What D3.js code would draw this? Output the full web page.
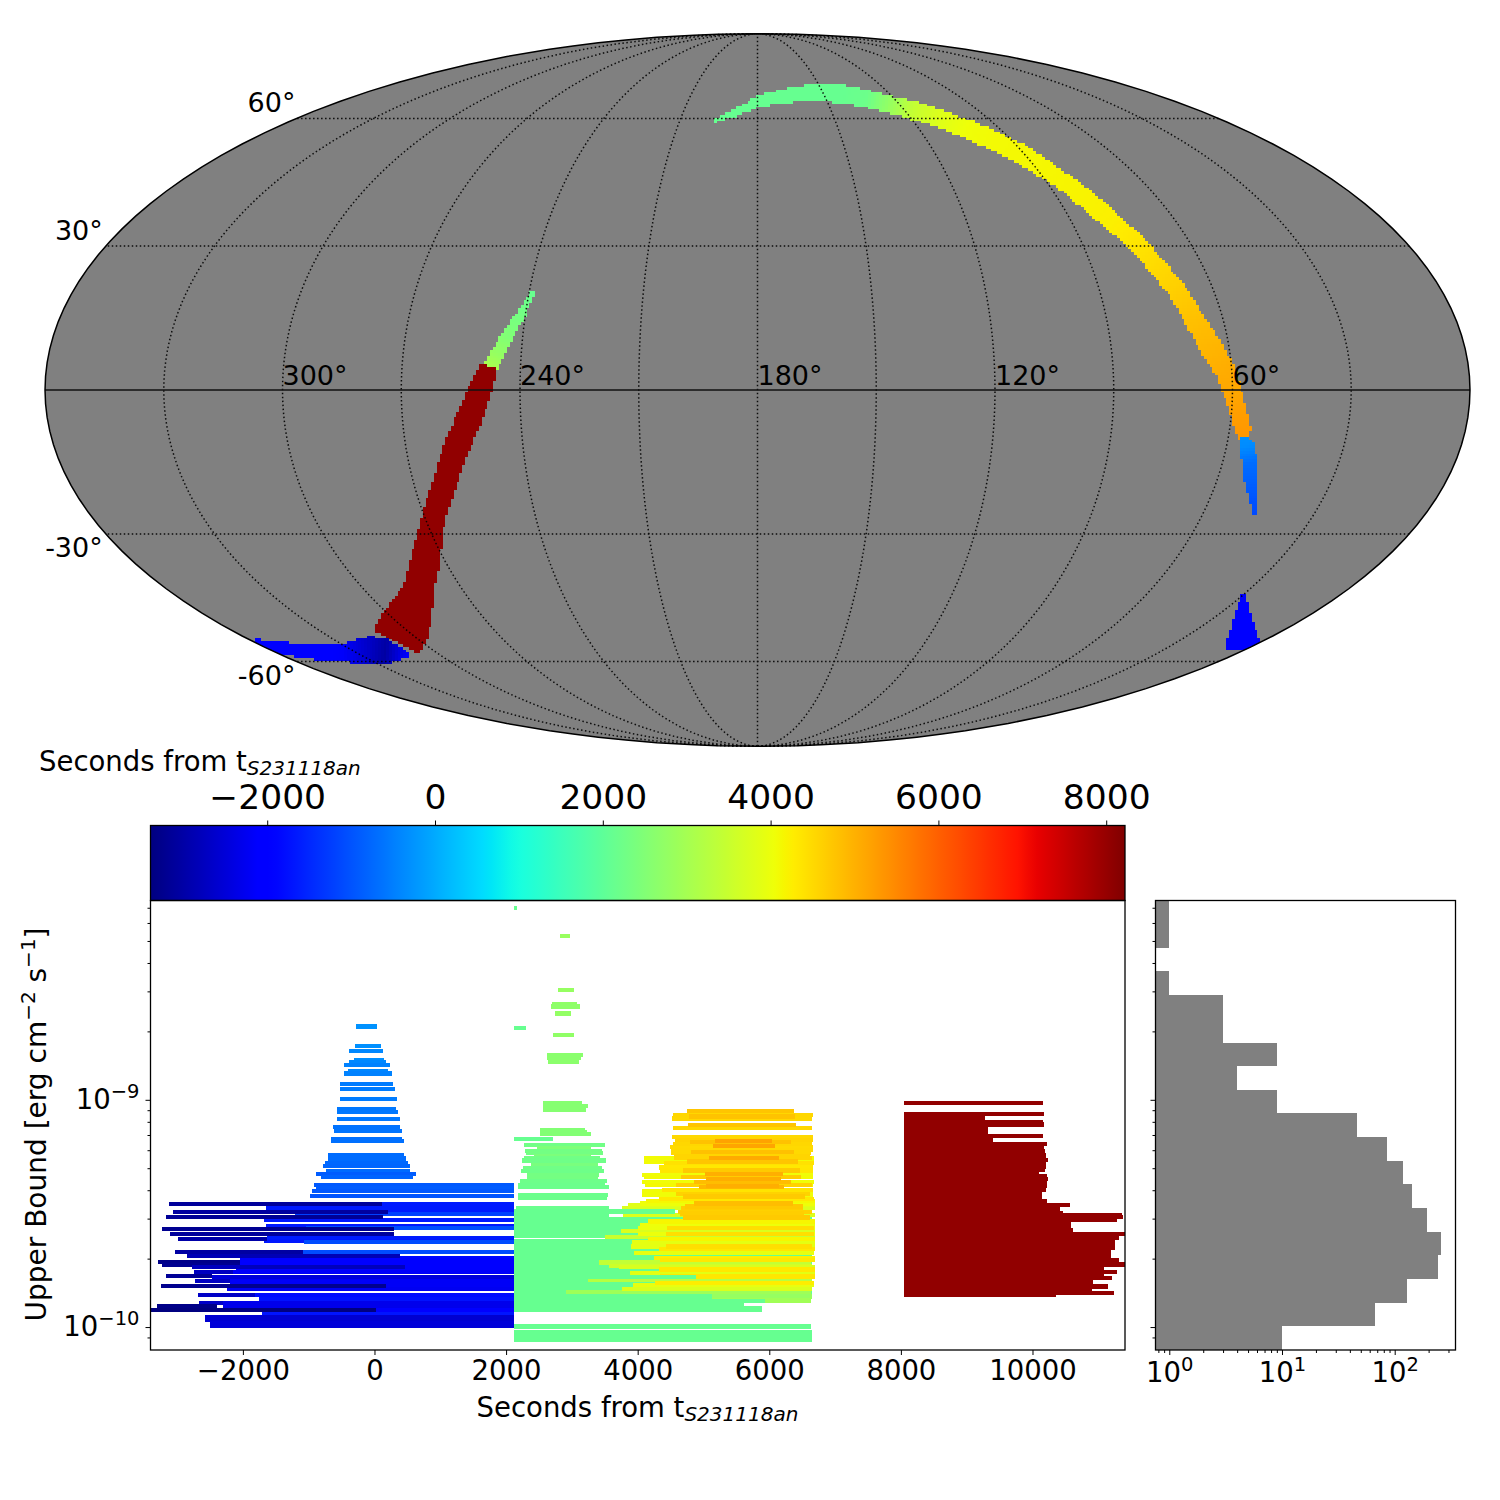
<!DOCTYPE html>
<html><head><meta charset="utf-8">
<script src="https://cdn.jsdelivr.net/npm/d3@7"></script>
<style>
html,body{margin:0;padding:0;background:#fff}
svg{display:block}
text{font-family:"DejaVu Sans",sans-serif;fill:#000}
</style></head><body>
<svg id="fig" width="1500" height="1500" xmlns="http://www.w3.org/2000/svg"></svg>
<script>
// ---------- sky swaths: [longitude deg, latitude deg, swath width deg, seconds]
const skyGreenLeft=[[239.1,20.27,1.0,2120],[241.0,15.83,1.9,2300],[244.1,10.93,2.8,2500],[246.2,7.16,3.1,2800],[247.5,4.7,3.3,3050]];
const skyRedArc=[[248,4.9,4.1,8049],[250.1,0,5.2,8049],[253.3,-6.14,6.0,8049],[257.5,-12.31,5.8,8049],[260.9,-17.85,5.5,8049],[265.8,-24.15,5.5,8049],[270.3,-29.76,5.5,8049],[276.1,-36.34,6.9,8049],[282.6,-41.74,6.7,8049],[289.7,-46.38,9.4,8049],[298.4,-50.66,11.7,8049],[309,-54.87,11.7,8049]];
const skyBlueTail=[[358.7,-54.62,0.7,-2100],[355.9,-56.4,2.6,-2100],[346.4,-57.35,3.5,-2050],[335,-57.69,4.1,-2150],[323,-56.92,6.4,-2700],[318.7,-57.43,5.8,-3050],[314.8,-57.69,3.5,-2500],[311.9,-58.2,1.2,-2100]];
const skyTopArc=[[197.0,59.32,0.6,2120],[189.7,61.3,1.6,2120],[180.3,64.45,2.3,2120],[170.0,66.08,3.1,2120],[157.5,67.02,3.7,2120],[142.45,66.85,4.1,2120],[132.1,65.43,3.9,2200],[125.1,64.0,3.9,2700],[116.5,62.19,4.1,3450],[108.9,59.96,3.9,3800],[102.2,57.35,4.1,4050],[96.5,54.36,4.5,4100],[91.3,51.08,4.5,4120],[87.2,47.09,4.0,4140],[83.2,42.89,4.0,4170],[80.4,38.34,4.4,4200],[78.2,35.2,4.0,4230],[75.4,31.28,4.0,4340],[72.8,26.61,4.0,4470],[69.7,20.63,4.0,4640],[67.3,14.37,4.5,4820],[64.5,8.6,5.0,4950],[61.3,3.48,4.6,5070],[60.2,0,4.3,5120],[58.4,-4.09,3.8,5220],[56.6,-8.19,3.6,5300],[55.9,-10.25,2.5,5320]];
const skyBlueArc=[[55.8,-9.63,1.6,-300],[54.8,-11.63,3.7,-350],[52.9,-15.0,3.1,-700],[50.7,-19.16,3.1,-850],[48.4,-22.73,1.8,-1000],[45.8,-25.9,1.0,-1100]];
const skyBlueWedge=[[30.4,-43.35,0.5,-2000],[24.2,-47.09,3.1,-2000],[15.9,-51.15,5.2,-2000],[8,-54.36,7.2,-2000],[0.5,-56.92,7.6,-2000]];
const meridians=[0,30,60,90,120,150,180,210,240,270,300,330];
const parallels=[-60,-30,30,60];
const lonLabels=[300,240,180,120,60];
const latLabels=[60,30,-30,-60];

// ---------- sweep bars: [log10 upper bound, start s, end s]
const lightBlueBars=[[-8.678,-281,38],[-8.762,-296,99],[-8.784,-388,129],[-8.824,-312,144],[-8.833,-388,175],[-8.846,-464,236],[-8.872,-403,205],[-8.885,-464,266],[-8.930,-524,281],[-8.952,-524,312],[-8.996,-524,342],[-9.040,-570,327],[-9.053,-570,357],[-9.084,-570,388],[-9.119,-631,388],[-9.137,-616,418],[-9.172,-661,418],[-9.181,-661,448],[-9.242,-707,448],[-9.256,-707,479],[-9.264,-707,479],[-9.278,-752,509],[-9.291,-783,540],[-9.313,-737,540],[-9.326,-889,631],[-9.339,-813,585],[-9.374,-920,2120],[-9.388,-889,2120],[-9.401,-950,2120],[-9.423,-980,2120]];
const blueBars=[[-9.458,-1649,2120],[-9.476,-1649,2120],[-9.489,-1649,2120],[-9.502,-1208,2120],[-9.529,-1680,2120],[-9.555,-1649,2120],[-9.564,-1041,2120],[-9.608,-1634,2120],[-9.622,-1680,2120],[-9.626,-1072,2120],[-9.670,-1087,2120],[-9.695,-1900,2120],[-9.705,-2044,2120],[-9.722,-2044,2120],[-9.738,-2100,2120],[-9.758,-2151,2120],[-9.780,-2470,2120],[-9.797,-2196,2120],[-9.815,-2196,2120],[-9.832,-2242,2120],[-9.859,-1816,2120],[-9.877,-1750,2120],[-9.894,-2303,2120],[-9.912,-2300,2120],[-9.925,-2000,2120],[-9.942,-1710,2120],[-9.956,-2576,2120],[-9.969,-2576,2120],[-9.982,-2500,2120],[-9.996,-2500,2120]];
const navyBars=[[-9.458,-3124,114],[-9.493,-3063,205],[-9.515,-3169,129],[-9.568,-3230,296],[-9.590,-3108,296],[-9.612,-2987,-1634],[-9.670,-3032,-1087],[-9.687,-2850,388],[-9.714,-3291,-2044],[-9.726,-3230,-2044],[-9.736,-2774,464],[-9.758,-2744,-2151],[-9.775,-3169,-2470],[-9.797,-2728,-2196],[-9.819,-3245,175],[-9.859,-2683,-1816],[-9.894,-2668,-2303],[-9.907,-3306,-2400],[-9.925,-3397,23]];
const greenBars=[[-8.157,2121,2166],[-8.280,2820,2972],[-8.518,2790,3033],[-8.581,2698,3078],[-8.590,2683,3124],[-8.621,2744,2987],[-8.683,2121,2303],[-8.714,2714,3033],[-8.802,2622,3170],[-8.815,2622,3139],[-8.832,2638,3109],[-9.014,2562,3154],[-9.026,2562,3246],[-9.044,2562,3215],[-9.132,2516,3200],[-9.141,2516,3230],[-9.150,2516,3291],[-9.172,2121,2714],[-9.198,2273,3504],[-9.213,2470,3291],[-9.226,2288,3459],[-9.235,2303,3474],[-9.246,2425,3291],[-9.257,2273,3428],[-9.267,2242,3519],[-9.286,2379,3398],[-9.299,2258,3459],[-9.313,2227,3489],[-9.330,2318,3413],[-9.343,2318,3398],[-9.357,2212,3534],[-9.374,2182,3504],[-9.385,2182,3565],[-9.418,2182,3550],[-9.431,2182,3534]];
const greenBlockBars=[[-9.477,2151,3565],[-9.492,2121,4568],[-9.509,2121,3565],[-9.524,2121,6650],[-9.541,2121,6650],[-9.559,2121,6650],[-9.577,2121,6650],[-9.594,2121,6650],[-9.600,2121,6650],[-9.622,2121,6650],[-9.640,2121,6650],[-9.657,2121,6650],[-9.675,2121,6650],[-9.693,2121,6650],[-9.710,2121,6650],[-9.728,2121,6650],[-9.746,2121,6650],[-9.763,2121,6650],[-9.781,2121,4887],[-9.798,2121,6650],[-9.816,2121,6650],[-9.826,2121,6650],[-9.848,2121,6650],[-9.866,2121,6650],[-9.884,2121,5936],[-9.901,2121,5617],[-9.919,2121,5891],[-9.925,2121,5891],[-9.995,2121,6636],[-10.001,2121,6636],[-10.021,2121,6651],[-10.039,2121,6651],[-10.057,2121,6651]];
const greenOverlayBars=[[-9.492,2121,4568],[-9.781,2121,4887],[-9.866,2121,5126],[-9.886,2121,5936]];
const yellowBars=[[-9.848,2911,6636],[-9.866,2790,6651],[-9.884,2942,6636],[-9.793,3246,6651],[-9.716,3413,6636],[-9.603,3504,6696],[-9.731,3565,6650],[-9.737,3717,6696],[-9.577,3747,6696],[-9.475,3762,6696],[-9.832,3762,6651],[-9.506,3778,6696],[-9.462,3854,6696],[-9.763,3884,6696],[-9.646,3899,6696],[-9.627,3914,6696],[-9.815,3935,6681],[-9.675,3945,6681],[-9.591,4006,6696],[-9.456,4036,6696],[-9.550,4036,6696],[-9.565,4006,6696],[-9.330,4066,6671],[-9.361,4066,6681],[-9.401,4066,6671],[-9.420,4066,6671],[-9.258,4097,6681],[-9.271,4097,6681],[-9.340,4097,6671],[-9.374,4113,6671],[-9.446,4130,6696],[-9.536,4158,6696],[-9.613,4158,6696],[-9.697,4249,6696],[-9.807,4264,6681],[-9.298,4325,6661],[-9.436,4325,6681],[-9.657,4325,6696],[-9.746,4325,6696],[-9.311,4340,6661],[-9.705,4340,6696],[-9.778,4340,6696],[-9.396,4370,6671],[-9.279,4401,6681],[-9.591,4431,6681],[-9.646,4431,6646],[-9.565,4446,6681]];
const amberBars=[[-9.208,4492,6661],[-9.220,4507,6666],[-9.235,4507,6636],[-9.083,4523,6651],[-9.163,4523,6666],[-9.066,4538,6666],[-9.125,4538,6651],[-9.194,4538,6651],[-9.246,4553,6620],[-9.255,4553,6646],[-9.177,4568,6666],[-9.374,4583,6651],[-9.414,4583,6620],[-9.493,4614,6651],[-9.500,4644,6529],[-9.340,4659,6484],[-9.475,4659,6514],[-9.311,4690,6468],[-9.426,4690,6544],[-9.518,4690,6620],[-9.470,4720,6514],[-9.048,4750,6377],[-9.271,4750,6438],[-9.111,4766,6407],[-9.073,4781,6392],[-9.186,4796,6331],[-9.230,4811,6377],[-9.361,4857,6331],[-9.456,4857,6362],[-9.383,4933,6225],[-9.326,5024,6210],[-9.349,5039,6179],[-9.380,5039,6149],[-9.255,5085,6149],[-9.202,5146,6088],[-9.180,5176,6043]];
const redBars=[[-9.013,8049,10162],[-9.063,8049,10177],[-9.082,8049,9280],[-9.097,8049,10167],[-9.109,8049,10177],[-9.126,8049,9326],[-9.141,8049,9326],[-9.159,8049,10162],[-9.178,8049,9397],[-9.195,8049,10218],[-9.213,8049,10182],[-9.228,8049,10197],[-9.242,8049,10207],[-9.253,8049,10207],[-9.264,8049,10233],[-9.279,8049,10212],[-9.297,8049,10202],[-9.308,8049,10192],[-9.320,8049,10106],[-9.338,8049,10218],[-9.348,8049,10238],[-9.367,8049,10218],[-9.379,8049,10218],[-9.396,8049,10207],[-9.407,8049,10141],[-9.418,8049,10141],[-9.433,8049,10141],[-9.448,8049,10218],[-9.462,8049,10572],[-9.473,8049,10420],[-9.485,8049,10420],[-9.499,8049,10471],[-9.507,8049,11358],[-9.517,8049,11378],[-9.526,8049,11282],[-9.540,8049,10587],[-9.558,8049,10587],[-9.567,8049,10587],[-9.576,8049,10613],[-9.590,8049,11413],[-9.609,8049,11317],[-9.620,8049,11256],[-9.631,8049,11256],[-9.642,8049,11256],[-9.653,8049,11256],[-9.664,8049,11196],[-9.675,8049,11196],[-9.690,8049,11196],[-9.705,8049,11317],[-9.714,8049,11317],[-9.724,8049,11413],[-9.738,8049,11089],[-9.748,8049,11089],[-9.758,8049,11287],[-9.771,8049,11089],[-9.784,8049,11210],[-9.800,8049,10927],[-9.811,8049,10927],[-9.822,8049,11150],[-9.834,8049,10907],[-9.849,8049,11241],[-9.856,8049,10359]];

// ---------- histogram
const histEdges=[-10.101,-9.997,-9.893,-9.789,-9.685,-9.580,-9.476,-9.372,-9.268,-9.164,-9.060,-8.956,-8.852,-8.748,-8.644,-8.540,-8.435,-8.331,-8.227,-8.123];
const histCounts=[10,67,129,242,258,194,142,119,85,46,9,4,9,3,3,1,0,1,1];

// ---------- ticks
const mainTicks=[-2000,0,2000,4000,6000,8000,10000];
const colorTicks=[-2000,0,2000,4000,6000,8000];
const upperBoundTicks=[1e-9,1e-10];
const upperBoundMinor=[2e-10,3e-10,4e-10,5e-10,6e-10,7e-10,8e-10,9e-10,2e-9,3e-9,4e-9,5e-9,6e-9,7e-9,9e-11];
const histTicks=[1,10,100];
const histMinor=[0.8,0.9,2,3,4,5,6,7,8,9,20,30,40,50,60,70,80,90,200,300];

const svg=d3.select("#fig");
const FS=27.5;
const colorDomain=[-3391,8224];
const norm=d3.scaleLinear().domain(colorDomain).range([0,1]).clamp(true);
const jetR=d3.scaleLinear().domain([0,.35,.66,.89,1]).range([0,0,1,1,.5]);
const jetG=d3.scaleLinear().domain([0,.125,.375,.64,.91,1]).range([0,0,1,1,0,0]);
const jetB=d3.scaleLinear().domain([0,.11,.34,.65,1]).range([.5,1,1,0,0]);
function jetF(f){return d3.rgb(jetR(f)*255,jetG(f)*255,jetB(f)*255).formatHex();}
const jet=t=>jetF(norm(t));

// ---------- Mollweide
function mollweideRaw(l,p){
  let th=p;
  if(Math.abs(Math.abs(p)-Math.PI/2)>1e-9){
    for(let i=0;i<40;i++){
      const d=(2*th+Math.sin(2*th)-Math.PI*Math.sin(p))/(2+2*Math.cos(2*th));
      th-=d; if(Math.abs(d)<1e-10)break;
    }
  }
  return [2*Math.SQRT2/Math.PI*l*Math.cos(th),Math.SQRT2*Math.sin(th)];
}
const SK=251.9;
const projection=d3.geoProjection(mollweideRaw).scale(SK).translate([757.5,390]).rotate([-180,0]).reflectX(true).precision(.2);
const geoPath=d3.geoPath(projection);
const defs=svg.append("defs");
defs.append("clipPath").attr("id","skyClip").append("path").attr("d",geoPath({type:"Sphere"}));
const map=svg.append("g");
map.append("path").attr("d",geoPath({type:"Sphere"})).attr("fill","#808080");

const CELL=2.8, deg2px=SK*Math.PI/180;
function swathCells(anchors){
  const P=anchors.map(a=>projection([a[0],a[1]]));
  const n=P.length, L=[], R=[];
  P.forEach((p,i)=>{
    const a=P[Math.max(i-1,0)], b=P[Math.min(i+1,n-1)];
    let dx=b[0]-a[0], dy=b[1]-a[1]; const m=Math.hypot(dx,dy)||1; dx/=m; dy/=m;
    const h=anchors[i][2]*deg2px/2;
    L.push([p[0]-dy*h,p[1]+dx*h]); R.push([p[0]+dy*h,p[1]-dx*h]);
  });
  const seen=new Set(), cells=[];
  for(let i=0;i<n-1;i++){
    const poly=[L[i],L[i+1],R[i+1],R[i]];
    const ix=d3.extent(poly,d=>d[0]), iy=d3.extent(poly,d=>d[1]);
    const sx=P[i+1][0]-P[i][0], sy=P[i+1][1]-P[i][1], s2=sx*sx+sy*sy||1;
    for(let gx=Math.floor(ix[0]/CELL);gx*CELL<=ix[1];gx++){
      for(let gy=Math.floor(iy[0]/CELL);gy*CELL<=iy[1];gy++){
        const cx=(gx+.5)*CELL, cy=(gy+.5)*CELL, key=gx+"_"+gy;
        if(seen.has(key)||!d3.polygonContains(poly,[cx,cy]))continue;
        seen.add(key);
        const s=Math.max(0,Math.min(1,((cx-P[i][0])*sx+(cy-P[i][1])*sy)/s2));
        cells.push({x:gx*CELL,y:gy*CELL,t:anchors[i][3]+s*(anchors[i+1][3]-anchors[i][3])});
      }
    }
  }
  return cells;
}
const skyG=map.append("g").attr("clip-path","url(#skyClip)");
[skyGreenLeft,skyRedArc,skyBlueTail,skyTopArc,skyBlueArc,skyBlueWedge].forEach(sw=>{
  skyG.append("g").attr("shape-rendering","crispEdges").selectAll("rect").data(swathCells(sw)).join("rect")
    .attr("x",d=>d.x).attr("y",d=>d.y).attr("width",CELL+.2).attr("height",CELL+.2).attr("fill",d=>jet(d.t));
});
const lats=d3.range(-90,90.01,2);
const grat=map.append("g").attr("fill","none").attr("stroke","#000").attr("stroke-width",1.5).attr("stroke-dasharray","1.5 2.5").attr("opacity",.9);
meridians.filter(m=>m!==0).forEach(m=>{
  grat.append("path").attr("d",geoPath({type:"LineString",coordinates:lats.map(p=>[m,p])}));
});
parallels.forEach(p=>{
  grat.append("path").attr("d",d3.line()([projection([0.001,p]),projection([359.999,p])]));
});
map.append("path").attr("d",d3.line()([projection([0.001,0]),projection([359.999,0])])).attr("stroke","#111").attr("stroke-width",1.7).attr("fill","none");
map.append("path").attr("d",geoPath({type:"Sphere"})).attr("fill","none").attr("stroke","#000").attr("stroke-width",1.5);
lonLabels.forEach(l=>{
  const p=projection([l,0]);
  map.append("text").attr("x",p[0]).attr("y",p[1]-5).attr("font-size",27).text(l+"°");
});
latLabels.forEach(l=>{
  const p=projection([359.999,l]);
  map.append("text").attr("x",p[0]-(Math.abs(l)===60?1:3)).attr("y",p[1]+(l>0?-6:23)).attr("text-anchor","end").attr("font-size",27).text(l+"°");
});

// ---------- scales
const PL=150.5,PR=1125,PT=900.5,PB=1350;
const x=d3.scaleLinear().domain([-3404,11406]).range([PL,PR]);
const y=d3.scaleLog().domain([Math.pow(10,-10.101),Math.pow(10,-8.123)]).range([PB,PT]);
const yL=v=>y(Math.pow(10,v));

// ---------- colour bar
const CT=825.5;
const grad=defs.append("linearGradient").attr("id","jetGrad");
grad.selectAll("stop").data(d3.range(0,1.0001,.01)).join("stop").attr("offset",d=>d).attr("stop-color",d=>jetF(d));
svg.append("rect").attr("x",PL).attr("y",CT).attr("width",PR-PL).attr("height",PT-CT).attr("fill","url(#jetGrad)").attr("stroke","#000").attr("stroke-width",1.3);
const cx=d3.scaleLinear().domain(colorDomain).range([PL,PR]);
const cAxis=svg.append("g").attr("transform",`translate(0,${CT})`).call(d3.axisTop(cx).tickValues(colorTicks).tickSize(5).tickSizeOuter(0).tickPadding(12).tickFormat(d=>d3.format("d")(d).replace("-","−")));
cAxis.select(".domain").remove();
cAxis.selectAll("text").attr("font-size",34.5).style("font-family",'"DejaVu Sans"');
function secondsLabel(g,xp,yp,anchor){
  const t=g.append("text").attr("x",xp).attr("y",yp).attr("font-size",FS).attr("text-anchor",anchor);
  t.append("tspan").text("Seconds from t");
  t.append("tspan").attr("dy",4).attr("font-size",20).attr("font-style","italic").text("S231118an");
}
secondsLabel(svg,39,771,"start");

// ---------- main panel
defs.append("clipPath").attr("id","mainClip").append("rect").attr("x",PL).attr("y",PT).attr("width",PR-PL).attr("height",PB-PT);
const mainG=svg.append("g").attr("clip-path","url(#mainClip)").attr("shape-rendering","crispEdges");
const BAR_H=4.4;
[greenBlockBars,greenBars,yellowBars,amberBars,greenOverlayBars,redBars,blueBars,navyBars,lightBlueBars].forEach(group=>{
  mainG.append("g").selectAll("rect").data(group).join("rect")
    .attr("x",d=>x(d[1])).attr("width",d=>x(d[2])-x(d[1]))
    .attr("y",d=>yL(d[0])-BAR_H/2).attr("height",BAR_H).attr("fill",d=>jet(d[1]));
});
svg.append("rect").attr("x",PL).attr("y",PT).attr("width",PR-PL).attr("height",PB-PT).attr("fill","none").attr("stroke","#000").attr("stroke-width",1.3);
const xAxis=svg.append("g").attr("transform",`translate(0,${PB})`).call(d3.axisBottom(x).tickValues(mainTicks).tickSize(5).tickSizeOuter(0).tickPadding(5).tickFormat(d=>d3.format("d")(d).replace("-","−")));
xAxis.select(".domain").remove();
xAxis.selectAll("text").attr("font-size",FS).style("font-family",'"DejaVu Sans"');
function powerText(sel,expFn){
  sel.each(function(d){
    const t=d3.select(this).text(null).attr("font-size",FS).style("font-family",'"DejaVu Sans"');
    t.append("tspan").text("10");
    t.append("tspan").attr("dy",-11).attr("font-size",19.5).text(expFn(d));
  });
}
const expOf=d=>String(Math.round(Math.log10(d))).replace("-","−");
const yAxis=svg.append("g").attr("transform",`translate(${PL},0)`).call(d3.axisLeft(y).tickValues(upperBoundTicks).tickSize(5).tickSizeOuter(0).tickPadding(6));
yAxis.select(".domain").remove();
powerText(yAxis.selectAll("text"),expOf);
const yMinor=svg.append("g").attr("transform",`translate(${PL},0)`).call(d3.axisLeft(y).tickValues(upperBoundMinor).tickSize(3).tickSizeOuter(0).tickFormat(""));
yMinor.select(".domain").remove();
const xl=svg.append("g");
secondsLabel(xl,637.5,1417,"middle");
const yLab=svg.append("text").attr("transform","translate(46,1124.5) rotate(-90)").attr("text-anchor","middle").attr("font-size",28);
yLab.append("tspan").text("Upper Bound [erg cm");
yLab.append("tspan").attr("dy",-11).attr("font-size",20).text("−2");
yLab.append("tspan").attr("dy",11).text(" s");
yLab.append("tspan").attr("dy",-11).attr("font-size",20).text("−1");
yLab.append("tspan").attr("dy",11).text("]");

// ---------- histogram panel
const HL=1155.5,HR=1455.5;
const hx=d3.scaleLog().domain([Math.pow(10,-0.1224),Math.pow(10,2.5395)]).range([HL,HR]);
const histRows=histCounts.map((c,i)=>({c,lo:histEdges[i],hi:histEdges[i+1]})).filter(d=>d.c>0);
svg.append("g").selectAll("rect").data(histRows).join("rect")
  .attr("x",HL).attr("width",d=>hx(d.c)-HL).attr("y",d=>yL(d.hi)).attr("height",d=>yL(d.lo)-yL(d.hi))
  .attr("fill","#808080").attr("shape-rendering","crispEdges");
svg.append("rect").attr("x",HL).attr("y",PT).attr("width",HR-HL).attr("height",PB-PT).attr("fill","none").attr("stroke","#000").attr("stroke-width",1.3);
const hAxis=svg.append("g").attr("transform",`translate(0,${PB})`).call(d3.axisBottom(hx).tickValues(histTicks).tickSize(5).tickSizeOuter(0).tickPadding(7));
hAxis.select(".domain").remove();
powerText(hAxis.selectAll("text"),expOf);
const hMinor=svg.append("g").attr("transform",`translate(0,${PB})`).call(d3.axisBottom(hx).tickValues(histMinor).tickSize(3).tickSizeOuter(0).tickFormat(""));
hMinor.select(".domain").remove();
const hyA=svg.append("g").attr("transform",`translate(${HL},0)`).call(d3.axisLeft(y).tickValues(upperBoundTicks).tickSize(5).tickSizeOuter(0).tickFormat(""));
hyA.select(".domain").remove();
const hyM=svg.append("g").attr("transform",`translate(${HL},0)`).call(d3.axisLeft(y).tickValues(upperBoundMinor).tickSize(3).tickSizeOuter(0).tickFormat(""));
hyM.select(".domain").remove();
</script></body></html>
